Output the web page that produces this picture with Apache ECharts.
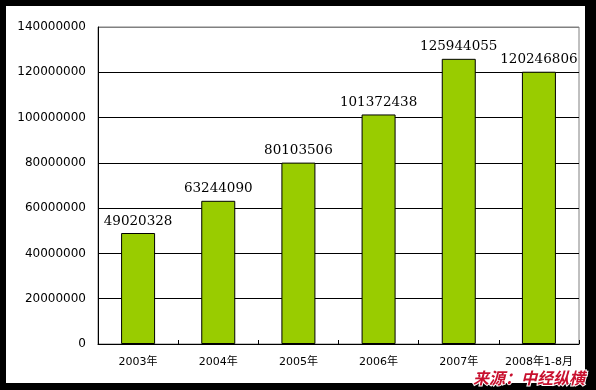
<!DOCTYPE html>
<html><head><meta charset="utf-8">
<script src="https://cdn.jsdelivr.net/npm/echarts@6/dist/echarts.min.js"></script>
<style>html,body{margin:0;padding:0;background:#000;}#c{width:596px;height:390px;}</style>
</head><body><div id="c"></div>
<script>
const categories = ['2003年','2004年','2005年','2006年','2007年','2008年1-8月'];
const values = [49020328, 63244090, 80103506, 101372438, 125944055, 120246806];
const yTicks = { min: 0, max: 140000000, interval: 20000000 };

const chart = echarts.init(document.getElementById('c'));
chart.setOption({
  backgroundColor: '#000',
  animation: false,
  graphic: [
    { type: 'rect', shape: { x: 6, y: 6, width: 579, height: 377 }, style: { fill: '#fff' }, z: -10 },
    { type: 'text', left: 472, top: 369, z: 100,
      style: { text: '来源：中经纵横', font: 'italic bold 16px "Noto Sans CJK SC"', fill: '#c8102e', stroke: '#fff', lineWidth: 2 } }
  ],
  grid: { left: 98, right: 17, top: 27, bottom: 46, show: true, borderColor: '#808080', borderWidth: 1 },
  xAxis: {
    type: 'category', data: categories,
    axisLine: { lineStyle: { color: '#000', width: 1 } },
    axisTick: { show: true, inside: true, length: 4, alignWithLabel: false, lineStyle: { color: '#000' } },
    axisLabel: { interval: 0, color: '#000', fontSize: 11, fontFamily: 'DejaVu Sans, "Noto Sans CJK SC"', margin: 13 },
    splitLine: { show: false }
  },
  yAxis: {
    type: 'value', min: yTicks.min, max: yTicks.max, interval: yTicks.interval,
    axisLine: { show: true, lineStyle: { color: '#000', width: 1 } },
    axisTick: { show: false },
    axisLabel: { color: '#000', fontSize: 12, fontFamily: 'DejaVu Sans', margin: 12, formatter: v => String(v) },
    splitLine: { lineStyle: { color: ['#000','#000','#000','#000','#000','#000','#000','#808080'], width: 1 } }
  },
  series: [{
    type: 'bar', data: values, barWidth: 34,
    itemStyle: { color: '#99cc00', borderColor: '#000', borderWidth: 1 },
    label: { show: true, position: 'top', distance: 5, color: '#000', fontSize: 13.5, fontFamily: 'DejaVu Serif' }
  }]
});
</script></body></html>
